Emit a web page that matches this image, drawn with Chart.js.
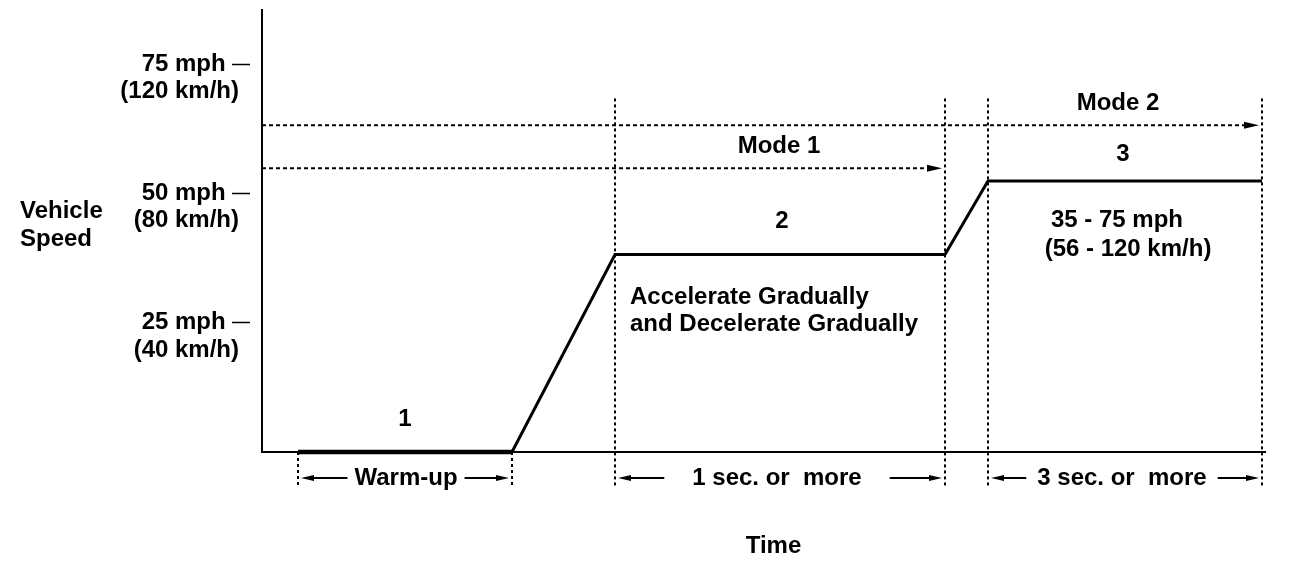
<!DOCTYPE html>
<html lang="en">
<head>
<meta charset="UTF-8">
<title>Vehicle Speed Test Pattern</title>
<script src="https://cdn.jsdelivr.net/npm/chart.js"></script>
<style>
  html, body { margin: 0; padding: 0; background: #fff; }
  .chart-box { position: relative; width: 1312px; height: 570px; }
</style>
</head>
<body>
<div class="chart-box"><canvas id="speedChart"></canvas></div>
<script>
// Speed profile (time in arbitrary units, speed in mph)
const profileTime = [36, 250, 353, 683, 726, 1000];
const profileSpeed = [0, 0, 38.2, 38.2, 52.4, 52.4];

// Y axis ticks
const yTickValues = [25, 50, 75];
const yTickMph = ['25 mph', '50 mph', '75 mph'];
const yTickKmh = ['(40 km/h)', '(80 km/h)', '(120 km/h)'];

// Mode arrows (dotted, from the axis to the end of each mode)
const modeLevels = [54.9, 63.2];
const modeEnds = [683, 1000];
const markTop = 68.4; // where the mode boundary lines start

// Text notes inside the plot
const notes = [
  { text: '1', t: 143, v: 6.4 },
  { text: '2', t: 520, v: 44.7 },
  { text: '3', t: 861, v: 57.6 },
  { text: 'Mode 1', t: 517, v: 59.2 },
  { text: 'Mode 2', t: 856, v: 67.5 },
  { text: '35 - 75 mph', t: 855, v: 44.9 },
  { text: '(56 - 120 km/h)', t: 866, v: 39.1 },
  { text: 'Accelerate Gradually', t: 368, v: 30.0, align: 'left' },
  { text: 'and Decelerate Gradually', t: 368, v: 24.6, align: 'left' }
];

// Duration labels under the time axis
const spans = [
  { text: 'Warm-up', from: 36, to: 250, center: 144, gap: 7 },
  { text: '1 sec. or  more', from: 353, to: 683, center: 515, gap: 28 },
  { text: '3 sec. or  more', from: 726, to: 1000, center: 860, gap: 11 }
];

const FONT = '"Liberation Sans", Arial, sans-serif';

function arrowHead(ctx, x, y, dir, len, half) {
  ctx.beginPath();
  ctx.moveTo(x, y);
  ctx.lineTo(x - dir * len, y - half);
  ctx.lineTo(x - dir * len, y + half);
  ctx.closePath();
  ctx.fill();
}

function seg(ctx, x1, y1, x2, y2) {
  ctx.beginPath();
  ctx.moveTo(x1, y1);
  ctx.lineTo(x2, y2);
  ctx.stroke();
}

const annotate = {
  id: 'annotate',
  afterDatasetsDraw(chart) {
    const { ctx, scales: { x, y } } = chart;
    const px = t => x.getPixelForValue(t);
    const py = v => y.getPixelForValue(v);
    const base = py(0);
    const below = base + 35;

    ctx.save();
    ctx.strokeStyle = '#000';
    ctx.fillStyle = '#000';

    // vertical dotted boundary lines
    ctx.lineWidth = 2;
    ctx.setLineDash([3, 3]);
    profileTime.forEach((t, i) => {
      const top = i < 2 ? base : py(markTop);
      seg(ctx, px(t), top, px(t), below);
    });

    // mode arrows
    ctx.setLineDash([4, 3]);
    modeLevels.forEach((v, i) => {
      const yy = py(v);
      const tip = px(modeEnds[i]) - 3;
      seg(ctx, px(0), yy, tip - 12, yy);
    });
    ctx.setLineDash([]);
    modeLevels.forEach((v, i) => arrowHead(ctx, px(modeEnds[i]) - 3, py(v), 1, 15, 3.5));

    // text
    ctx.font = 'bold 24px ' + FONT;
    ctx.textBaseline = 'middle';
    notes.forEach(n => {
      ctx.textAlign = n.align || 'center';
      ctx.fillText(n.text, px(n.t), py(n.v));
    });

    // duration spans
    const yy = base + 26;
    ctx.lineWidth = 2;
    spans.forEach(s => {
      const w = ctx.measureText(s.text).width;
      const c = px(s.center);
      ctx.textAlign = 'center';
      ctx.fillText(s.text, c, yy);
      const l0 = px(s.from) + 3, l1 = c - w / 2 - s.gap;
      const r0 = c + w / 2 + s.gap, r1 = px(s.to) - 3;
      seg(ctx, l0 + 10, yy, l1, yy);
      arrowHead(ctx, l0, yy, -1, 13, 3);
      seg(ctx, r0, yy, r1 - 10, yy);
      arrowHead(ctx, r1, yy, 1, 13, 3);
    });

    // y axis title, written horizontally
    ctx.textAlign = 'left';
    ctx.fillText('Vehicle', 20, 211);
    ctx.fillText('Speed', 20, 239);
    ctx.restore();
  }
};

const profile = profileTime.map((t, i) => ({ x: t, y: profileSpeed[i] }));

new Chart(document.getElementById('speedChart'), {
  type: 'line',
  data: {
    datasets: [
      {
        data: profile,
        borderColor: '#000',
        borderWidth: 3,
        pointRadius: 0,
        tension: 0,
        clip: false
      },
      {
        data: profile.slice(0, 2), // warm-up segment, drawn heavier
        borderColor: '#000',
        borderWidth: 4.5,
        pointRadius: 0,
        clip: false
      }
    ]
  },
  options: {
    responsive: true,
    maintainAspectRatio: false,
    animation: false,
    layout: { padding: { top: 10, right: 47, left: 0, bottom: 0 } },
    plugins: {
      legend: { display: false },
      tooltip: { enabled: false }
    },
    scales: {
      x: {
        type: 'linear',
        min: 0,
        max: 1003,
        grid: { display: false },
        border: { display: true, color: '#000', width: 2 },
        ticks: { display: false },
        title: {
          display: true,
          text: '   Time',
          color: '#000',
          font: { family: FONT, size: 24, weight: 'bold' },
          padding: { top: 0, bottom: 9 }
        },
        afterFit(scale) { scale.height = 118; }
      },
      y: {
        min: 0,
        max: 85.5,
        afterBuildTicks(scale) {
          scale.ticks = yTickValues.map(v => ({ value: v }));
        },
        afterFit(scale) {
          scale.width = 262;
          // tall two-line labels should not push the plot area down
          scale.paddingTop = 0;
          scale.paddingBottom = 0;
        },
        grid: {
          display: true,
          drawOnChartArea: false,
          drawTicks: true,
          tickLength: 30,
          tickWidth: 1.5,
          tickColor: '#000',
          tickBorderDash: [18, 40]
        },
        border: { display: true, color: '#000', width: 2 },
        ticks: {
          padding: -7,
          color: '#000',
          font: { family: FONT, size: 24, weight: 'bold', lineHeight: 1.13 },
          callback(value) {
            const i = yTickValues.indexOf(value);
            return ['', yTickMph[i] + '  ', yTickKmh[i]];
          }
        }
      }
    }
  },
  plugins: [annotate]
});
</script>
</body>
</html>
